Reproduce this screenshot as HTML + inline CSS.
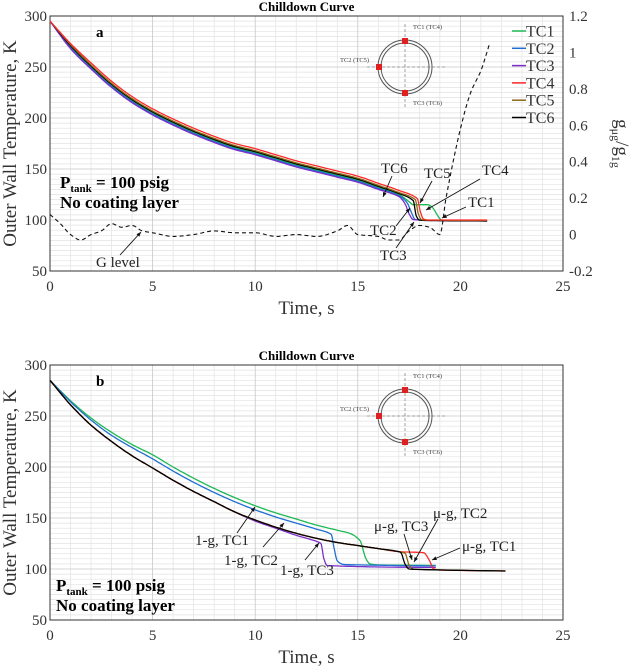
<!DOCTYPE html>
<html><head><meta charset="utf-8"><style>
html,body{margin:0;padding:0;background:#fff}
svg{display:block;font-family:"Liberation Serif",serif}
</style></head><body>
<svg id="c" width="630" height="666" viewBox="0 0 630 666" xmlns="http://www.w3.org/2000/svg"></svg>
<script>
// ---- Panel a data ----
const aTC1t=[0,1,2,3,4,5,6,7,8,9,10,11,12,13,14,15,16,17,17.5,17.7,18.4,18.6,19.1,21.3];
const aTC1v=[295,270,250,232,217,205,195,186,178,171,166,160,154,149,144,139,132,125,118,115,115,113,100,99];
const aTC2t=[0,1,2,3,4,5,6,7,8,9,10,11,12,13,14,15,16,17,17.4,17.6,17.8,18,21.3];
const aTC2v=[295,269,249,231,216,204,194,185,177,170,165,159,153,148,143,138,131,124,117,108,100.5,100,99];
const aTC3t=[0,1,2,3,4,5,6,7,8,9,10,11,12,13,14,15,16,17,17.3,17.5,17.7,18,21.3];
const aTC3v=[295,268,248,230,215,203,193,184,176,169,164,158,152,147,142,137,130,123,116,106,100.5,100,99];
const aTC4t=[0,1,2,3,4,5,6,7,8,9,10,11,12,13,14,15,16,17,17.9,18.05,18.2,18.4,21.3];
const aTC4v=[295,273,254,236,221,209,199,190,182,175,170,164,158,153,148,143,136,129,121,108,101,100,100];
const aTC5t=[0,1,2,3,4,5,6,7,8,9,10,11,12,13,14,15,16,17,17.8,17.95,18.1,18.3,21.3];
const aTC5v=[295,272,252,234,219,207,197,188,180,173,168,162,156,151,146,141,134,127,120,106,100.5,100,99.5];
const aTC6t=[0,1,2,3,4,5,6,7,8,9,10,11,12,13,14,15,16,17,17.7,17.85,18,18.3,21.3];
const aTC6v=[295,271,251,233,218,206,196,187,179,172,167,161,155,150,145,140,133,126,119,104,100,99.5,99];
const gT=[0,0.5,1,1.5,2,2.5,3,3.5,4,4.5,5,6,7,8,9,10,11,12,13,14,14.5,15,16,16.5,17,17.5,18,18.5,19,19.3,20,20.5,21,21.4];
const gV=[0.11,0.06,0.0,-0.03,0.0,0.02,0.06,0.04,0.05,0.02,0.01,-0.01,0.0,0.02,0.01,0.01,-0.01,0.0,-0.01,0.02,0.05,0.0,-0.01,-0.03,-0.03,0.02,0.05,0.04,0.0,0.2,0.58,0.78,0.9,1.04];
// ---- Panel b data ----
const bBlkT=[0,1,2,3,4,5,6,7,8,9,10,11,12,13,14,15,16,17,17.1,17.3,17.5,18,22.2];
const bBlkV=[285,261,241,225,211,199,187,176,166,156,148,141,135,130,126,123,120,117,116,105,100,99.5,98];
const bBrnT=[0,1,2,3,4,5,6,7,8,9,10,11,12,13,14,15,16,17,17.3,17.5,17.7,18.2,22.2];
const bBrnV=[285,261,241,225,211,199,187,176,166,156,148,141,135,130,126,123,120,117,115.5,104,100,99.5,98];
const bRedT=[0,1,2,3,4,5,6,7,8,9,10,11,12,13,14,15,16,17,18.2,18.5,18.7,19,22.2];
const bRedV=[285,261,241,225,211,199,187,176,166,156,148,141,135,130,126,123,120,117,116,108,100,99,98];
const bPurT=[0,1,2,3,4,5,6,7,8,9,10,11,12,13,13.2,13.35,13.5,14,16,18.8];
const bPurV=[285,261,241,225,211,199,187,176,166,156,147,140,133,127,125,110,103.5,103,102,101.5];
const bGrnT=[0,1,2,3,4,5,6,7,8,9,10,11,12,13,14,14.6,15.1,15.4,15.6,16,18.8];
const bGrnV=[285,265,248,234,222,212,200,189,179,170,162,155,149,143,138,135,128,110,105,104,103.5];
const bBluT=[0,1,2,3,4,5,6,7,8,9,10,11,12,13,13.7,13.85,14,14.3,15,18.8];
const bBluV=[285,264,246,231,219,208,196,185,175,166,158,151,145,139,134,120,108,104.5,104,103];
const xTicks=[0,5,10,15,20,25];
const yTicks=[50,100,150,200,250,300];
const gTicks=[-0.2,0,0.2,0.4,0.6,0.8,1,1.2];
const gTickLabels=["-0.2","0","0.2","0.4","0.6","0.8","1","1.2"];
const legendNames=["TC1","TC2","TC3","TC4","TC5","TC6"];
const colors={g:"#1db954",b:"#1f6fd1",p:"#7a2fc9",r:"#ff2a2a",br:"#8b6914",k:"#000"};

const NS="http://www.w3.org/2000/svg";
const svg=document.getElementById('c');
function el(tag,attrs,parent,text){const e=document.createElementNS(NS,tag);for(const k in attrs)e.setAttribute(k,attrs[k]);if(text!==undefined)e.textContent=text;(parent||svg).appendChild(e);return e;}

function mono(ts,vs){
  const n=ts.length,d=[],m=new Array(n).fill(0);
  for(let i=0;i<n-1;i++)d.push((vs[i+1]-vs[i])/(ts[i+1]-ts[i]));
  m[0]=d[0];m[n-1]=d[n-2];
  for(let i=1;i<n-1;i++){ if(d[i-1]*d[i]<=0)m[i]=0; else {m[i]=2/(1/d[i-1]+1/d[i]);} }
  const out=[];
  for(let i=0;i<n-1;i++){const h=ts[i+1]-ts[i];
    for(let s=0;s<12;s++){const u=s/12,u2=u*u,u3=u2*u;
      const v=(2*u3-3*u2+1)*vs[i]+(u3-2*u2+u)*h*m[i]+(-2*u3+3*u2)*vs[i+1]+(u3-u2)*h*m[i+1];
      out.push([ts[i]+u*h,v]);}}
  out.push([ts[n-1],vs[n-1]]);return out;
}

function panel(cfg){
  const L=50,R=563,T=cfg.top,B=cfg.bot;
  const X=t=>L+(t/25)*(R-L), Y=v=>B-(v-50)/250*(B-T);
  const g=el('g',{},svg);
  for(let t=0;t<=25;t+=1){if(t%5)el('line',{x1:X(t),x2:X(t),y1:T,y2:B,stroke:'#e2e2e2','stroke-width':0.7},g);}
  for(let v=50;v<=300;v+=5){if(v%50)el('line',{x1:L,x2:R,y1:Y(v),y2:Y(v),stroke:'#e2e2e2','stroke-width':0.7},g);}
  xTicks.forEach(t=>el('line',{x1:X(t),x2:X(t),y1:T,y2:B,stroke:'#c8c8c8','stroke-width':0.8},g));
  yTicks.forEach(v=>el('line',{x1:L,x2:R,y1:Y(v),y2:Y(v),stroke:'#c8c8c8','stroke-width':0.8},g));
  el('rect',{x:L,y:T,width:R-L,height:B-T,fill:'none',stroke:'#333','stroke-width':1},g);
  xTicks.forEach(t=>{const e=el('text',{x:X(t),y:B+20,'font-size':15,'text-anchor':'middle',fill:'#333'},g,String(t));});
  yTicks.forEach(v=>{const e=el('text',{x:L-3,y:Y(v)+5,'font-size':15,'text-anchor':'end',fill:'#333'},g,String(v));});
  const xt=el('text',{x:(L+R)/2,y:B+43,'font-size':19,'text-anchor':'middle',fill:'#333'},g,'Time, s');
  const yt=el('text',{x:0,y:0,'font-size':19,'text-anchor':'middle',fill:'#333',transform:`translate(16,${(T+B)/2}) rotate(-90)`},g,'Outer Wall Temperature, K');
  const tt=el('text',{x:(L+R)/2,y:T-5,'font-size':13,'font-weight':'bold','text-anchor':'middle'},g,'Chilldown Curve');
  const lb=el('text',{x:96,y:T+21,'font-size':15,'font-weight':'bold'},g,cfg.letter);
  const cx=405,cy=cfg.insetY,rx=27,ry=27;
  el('ellipse',{cx,cy,rx,ry,fill:'none',stroke:'#555','stroke-width':1},g);
  el('ellipse',{cx,cy,rx:rx-3,ry:ry-3,fill:'none',stroke:'#555','stroke-width':1},g);
  el('line',{x1:cx,x2:cx,y1:cy-ry-16,y2:cy+ry+14,stroke:'#666','stroke-width':0.6,'stroke-dasharray':'3,2'},g);
  el('line',{x1:cx-38,x2:cx+42,y1:cy,y2:cy,stroke:'#666','stroke-width':0.6,'stroke-dasharray':'3,2'},g);
  [[cx,cy-ry+1],[cx-rx+1,cy],[cx,cy+ry-1]].forEach(p=>el('rect',{x:p[0]-3,y:p[1]-3,width:6,height:6,fill:'#e02020'},g));
  el('text',{x:cx+8,y:cy-ry-11,'font-size':6.5,fill:'#444'},g,'TC1 (TC4)');
  el('text',{x:cx-65,y:cy-5,'font-size':6.5,fill:'#444'},g,'TC2 (TC5)');
  el('text',{x:cx+8,y:cy+ry+11,'font-size':6.5,fill:'#444'},g,'TC3 (TC6)');
  const pt=el('text',{x:cfg.px,y:cfg.py,'font-size':17,'font-weight':'bold'},g);
  el('tspan',{},pt,'P');el('tspan',{'font-size':11,dy:4},pt,'tank');el('tspan',{dy:-4},pt,' = 100 psig');
  el('text',{x:cfg.px,y:cfg.py+20,'font-size':17,'font-weight':'bold'},g,'No coating layer');
  cfg.series.forEach(s=>{const pts=mono(s.t,s.v);
    const p=el('path',{d:'M'+pts.map(q=>X(q[0]).toFixed(1)+','+Y(q[1]).toFixed(1)).join('L'),fill:'none',stroke:s.c,'stroke-width':1.3},g);
    });
  cfg.notes.forEach(a=>{el('text',{x:a[1],y:a[2],'font-size':15,fill:'#222'},g,a[0]);
    el('line',{x1:a[3],y1:a[4],x2:a[5],y2:a[6],stroke:'#111','stroke-width':0.9},g);
    const ang=Math.atan2(a[6]-a[4],a[5]-a[3]),h=5;
    el('path',{d:`M${a[5]},${a[6]}L${a[5]-h*Math.cos(ang-0.4)},${a[6]-h*Math.sin(ang-0.4)}L${a[5]-h*Math.cos(ang+0.4)},${a[6]-h*Math.sin(ang+0.4)}Z`,fill:'#111'},g);});
  return {g,X,Y,L,R,T,B};
}

const A=panel({name:'panel-a',top:16,bot:271,letter:'a',insetY:67,px:60,py:188,
 series:[{t:aTC1t,v:aTC1v,c:colors.g,n:'line-tc1'},{t:aTC2t,v:aTC2v,c:colors.b,n:'line-tc2'},{t:aTC3t,v:aTC3v,c:colors.p,n:'line-tc3'},
  {t:aTC6t,v:aTC6v,c:colors.k,n:'line-tc6'},{t:aTC5t,v:aTC5v,c:colors.br,n:'line-tc5'},{t:aTC4t,v:aTC4v,c:colors.r,n:'line-tc4'}],
 notes:[['TC6',381,173,392,176,383,197],['TC5',424,178,432,181,420,203],['TC4',482,175,480,179,426,210],['TC1',468,207,466,207,442,218],
  ['TC2',370,235,396,226,410,208],['TC3',380,260,396,248,414,222],['G level',96,267,120,255,141,232]]});
(function(){const Yg=v=>A.B-(v+0.2)/1.4*(A.B-A.T);
  gTicks.forEach((v,i)=>{const e=el('text',{x:A.R+6,y:Yg(v)+5,'font-size':15,fill:'#333'},A.g,gTickLabels[i]);});
  const rt=el('text',{x:0,y:0,'font-size':19,fill:'#333','text-anchor':'middle',transform:`translate(616,${(A.T+A.B)/2}) rotate(90)`},A.g);
  
  el('tspan',{},rt,'g');el('tspan',{'font-size':12,dy:4},rt,'μg');el('tspan',{dy:-4},rt,'/g');el('tspan',{'font-size':12,dy:4},rt,'1g');
  const pts=mono(gT,gV);
  const p=el('path',{d:'M'+pts.map(q=>A.X(q[0]).toFixed(1)+','+Yg(q[1]).toFixed(1)).join('L'),fill:'none',stroke:'#111','stroke-width':1.1,'stroke-dasharray':'4,3'},A.g);
  
  const lg=el('g',{},A.g);
  const lc=[colors.g,colors.b,colors.p,colors.r,colors.br,colors.k];
  legendNames.forEach((n,i)=>{const y=31+i*17.3;
    const e=el('g',{},lg);
    el('line',{x1:512,x2:526,y1:y,y2:y,stroke:lc[i],'stroke-width':1.5},e);
    el('text',{x:526,y:y+5.5,'font-size':16,fill:'#333'},e,n);});
})();

panel({name:'panel-b',top:365,bot:620,letter:'b',insetY:416,px:56,py:591,
 series:[{t:bGrnT,v:bGrnV,c:colors.g,n:'line-1g-tc1'},{t:bBluT,v:bBluV,c:colors.b,n:'line-1g-tc2'},{t:bPurT,v:bPurV,c:colors.p,n:'line-1g-tc3'},
  {t:bRedT,v:bRedV,c:colors.r,n:'line-ug-tc1'},{t:bBrnT,v:bBrnV,c:colors.br,n:'line-ug-tc2'},{t:bBlkT,v:bBlkV,c:colors.k,n:'line-ug-tc3'}],
 notes:[['1-g, TC1',195,545,237,533,255,507],['1-g, TC2',224,565,263,547,284,523],['1-g, TC3',280,575,305,560,319,543],
  ['μ-g, TC3',374,531,404,534,412,560],['μ-g, TC2',433,518,438,519,414,562],['μ-g, TC1',462,551,460,548,432,560]]});
</script>
</body></html>
